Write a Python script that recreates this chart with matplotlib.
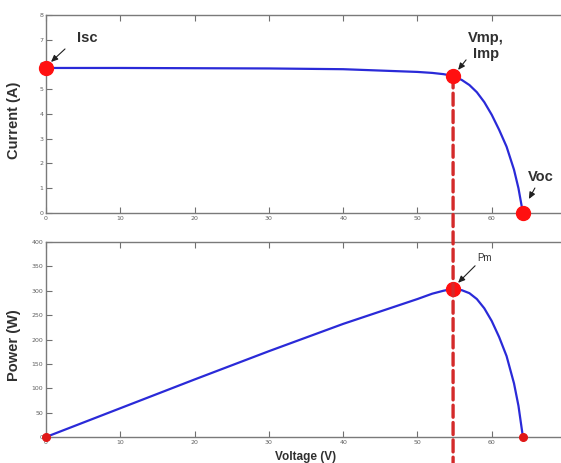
import matplotlib
matplotlib.use("Agg")
import matplotlib.pyplot as plt
from matplotlib.patches import ConnectionPatch
from matplotlib.transforms import offset_copy, blended_transform_factory

# ---- data ----
voltage = [0, 10, 20, 30, 40, 50, 52, 53.5, 54.8, 56, 57, 58, 59, 60, 61, 62, 63, 63.6, 64.2]
current = [5.86, 5.86, 5.85, 5.84, 5.81, 5.70, 5.66, 5.61, 5.54, 5.37, 5.17, 4.88, 4.48, 3.97,
           3.36, 2.68, 1.75, 1.00, 0.0]
power = [0, 59, 118, 176, 232, 283, 294, 300, 304, 301, 295, 283, 264, 238, 205, 166, 110, 64, 0]

isc = (0, 5.86)
mpp_iv = (54.8, 5.54)
voc_iv = (64.2, 0.0)
pm = (54.8, 304)
p_ends_v = [0, 64.2]
p_ends_p = [0, 0]

x_ticks = [0, 10, 20, 30, 40, 50, 60]
i_ticks = [0, 1, 2, 3, 4, 5, 6, 7, 8]
p_ticks = [0, 50, 100, 150, 200, 250, 300, 350, 400]

W, H = 561, 463
fig = plt.figure(figsize=(W / 100, H / 100), dpi=100)

def px_axes(l, t, r, b):
    return [l / W, 1 - b / H, (r - l) / W, (b - t) / H]

ax1 = fig.add_axes(px_axes(46, 15, 566, 213))
ax2 = fig.add_axes(px_axes(46, 242, 566, 437))

blue = "#2a2ad8"
red = "#ff1010"
spine_c = "#7a7a7a"
tick_c = "#707070"

for ax in (ax1, ax2):
    ax.set_xlim(0, 70)
    ax.set_xticks(x_ticks)
    ax.tick_params(direction="in", length=4, width=0.8, colors=tick_c,
                   labelsize=4.5, labelcolor="#606060", top=True, right=False, pad=2)
    for s in ax.spines.values():
        s.set_color(spine_c)
        s.set_linewidth(1.0)

ax1.set_ylim(0, 8)
ax1.set_yticks(i_ticks)
ax2.set_ylim(0, 400)
ax2.set_yticks(p_ticks)

ax1.plot(voltage, current, color=blue, lw=1.6, zorder=2)
ax2.plot(voltage, power, color=blue, lw=1.6, zorder=2)

for pt in (isc, mpp_iv, voc_iv):
    ax1.plot(pt[0], pt[1], "o", color=red, ms=10, clip_on=False, zorder=4)
ax2.plot(pm[0], pm[1], "o", color=red, ms=10, clip_on=False, zorder=4)
ax2.plot(p_ends_v, p_ends_p, "o", color="#e01818", ms=5.5, clip_on=False, zorder=4)

lab_font = dict(family="Liberation Sans", weight="bold", color="#303030")
ax1.set_ylabel("Current (A)", fontsize=10.5, **lab_font)
ax2.set_ylabel("Power (W)", fontsize=10.5, **lab_font)
ax1.yaxis.set_label_coords(-25 / 520, 0.47)
ax2.yaxis.set_label_coords(-25 / 520, 0.47)
ax2.set_xlabel("Voltage (V)", fontsize=8.5, **lab_font)
ax2.xaxis.set_label_coords(0.5, -14 / 195)

# dashed vertical line at the maximum power point
tr_b = blended_transform_factory(ax2.transData, ax2.transAxes)
con = ConnectionPatch(xyA=mpp_iv, coordsA=ax1.transData,
                      xyB=(mpp_iv[0], -0.3), coordsB=tr_b,
                      color="#d42a2a", lw=2.4, linestyle=(0, (3.6, 1.6)), zorder=3)
ax1.add_artist(con)
ax1.set_zorder(2)

def px2pt(v):
    return v * 0.72

def label(ax, pt, text_off, tail_off, head_off, txt, size, weight):
    t_text = offset_copy(ax.transData, fig=fig, x=px2pt(text_off[0]), y=px2pt(text_off[1]), units="points")
    ax.text(pt[0], pt[1], txt, transform=t_text, ha="center", va="center",
            fontsize=size, fontweight=weight, family="Liberation Sans", color="#303030",
            linespacing=1.25, clip_on=False, zorder=6)
    t_tail = offset_copy(ax.transData, fig=fig, x=px2pt(tail_off[0]), y=px2pt(tail_off[1]), units="points")
    t_head = offset_copy(ax.transData, fig=fig, x=px2pt(head_off[0]), y=px2pt(head_off[1]), units="points")
    ax.annotate("", xy=pt, xycoords=t_head, xytext=pt, textcoords=t_tail,
                arrowprops=dict(arrowstyle="-|>,head_length=0.4,head_width=0.18",
                                color="#202020", lw=0.8, shrinkA=0, shrinkB=0),
                annotation_clip=False, zorder=6)

label(ax1, isc, (41, 30), (19, 19), (5, 6), "Isc", 10.5, "bold")
label(ax1, mpp_iv, (33, 30), (13, 16), (5, 6), "Vmp,\nImp", 10.5, "bold")
label(ax1, voc_iv, (18, 36), (12, 25), (6, 14), "Voc", 10.5, "bold")
label(ax2, pm, (31, 31), (22, 23), (5, 6), "Pm", 7, "normal")

fig.savefig("out.png", dpi=100)
